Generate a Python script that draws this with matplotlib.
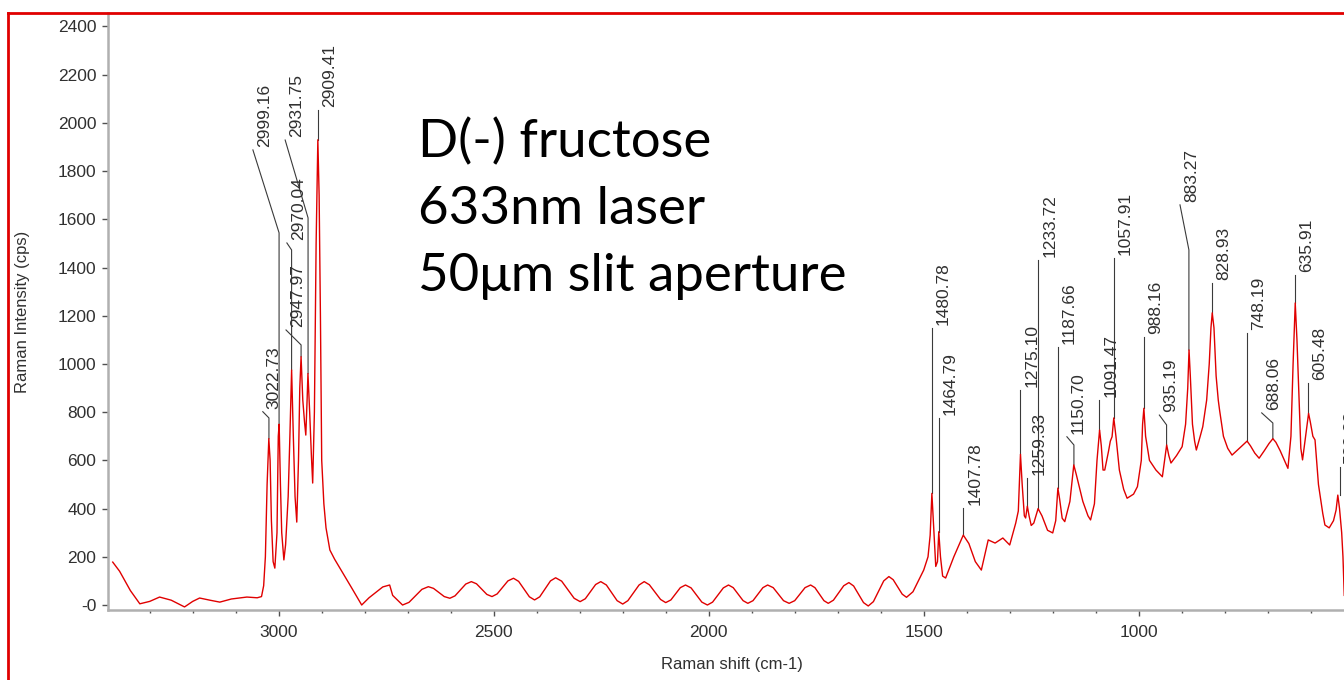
import matplotlib
matplotlib.use("Agg")
import matplotlib.pyplot as plt
from matplotlib.lines import Line2D
from matplotlib.ticker import MultipleLocator

# Raman spectrum (shift in cm-1, intensity in cps)
shift = [3386, 3370, 3345, 3323, 3300, 3277, 3250, 3219, 3200, 3184, 3160, 3137,
         3110, 3074, 3050, 3040, 3035, 3031, 3027, 3023, 3020, 3017, 3013, 3009,
         3004, 3001, 2999, 2996, 2993, 2988, 2984, 2978, 2974, 2970, 2966, 2962,
         2958, 2954, 2951, 2948, 2944, 2940, 2937, 2934, 2932, 2928, 2924, 2921,
         2917, 2913, 2909, 2906, 2903, 2900, 2895, 2890, 2881, 2870, 2851, 2830,
         2807, 2790, 2758, 2742, 2735,
         2712, 2697, 2667, 2652, 2640, 2615, 2602, 2590, 2565, 2552, 2540, 2516, 2504, 2492, 2467,
         2454, 2442, 2417, 2405, 2393, 2368, 2356, 2342, 2313, 2299, 2287, 2263, 2251, 2238, 2213,
         2200, 2188, 2162, 2150, 2138, 2112, 2100, 2088, 2066, 2054, 2041, 2016, 2003, 1991, 1966,
         1954, 1943, 1920, 1909, 1897, 1874, 1863, 1850, 1826, 1813, 1800, 1776, 1763, 1753, 1732,
         1722, 1710, 1686, 1674, 1663, 1640, 1629, 1617, 1593, 1581, 1571, 1550, 1540, 1525, 1500,
         1490, 1485, 1481, 1477, 1472, 1468, 1465, 1461, 1456, 1449, 1430, 1408,
         1395, 1380, 1366, 1350, 1334, 1316, 1300, 1286, 1280, 1275, 1271, 1266,
         1263, 1259, 1255, 1250, 1244, 1234, 1225, 1212, 1200, 1193, 1188, 1184,
         1178, 1172, 1160, 1151, 1145, 1130, 1118, 1112, 1103, 1097, 1091, 1087,
         1083, 1079, 1070, 1066, 1062, 1058, 1053, 1045, 1035, 1027, 1012, 1003,
         994, 991, 988, 984, 975, 960, 945, 935, 930, 925, 912, 899,
         891, 886, 883, 880, 875, 870, 866, 857, 851, 842, 836, 832,
         829, 825, 820, 815, 812, 803, 793, 783, 772, 760, 748, 740,
         730, 720, 708, 697, 688, 681, 671, 661, 653, 646, 641, 636,
         632, 628, 623, 619, 612, 605, 601, 595, 590, 582, 572, 567,
         557, 547, 541, 537, 533, 528, 525, 522]
intensity = [178, 140, 60, 5, 15, 33, 20, -8, 15, 29, 20, 12,
             25, 33, 30, 35, 80, 200, 500, 690, 600, 350, 180, 153,
             300, 700, 750, 500, 300, 187, 250, 450, 700, 975, 700, 450,
             344, 600, 900, 1030, 850, 760, 705, 850, 960, 800, 620, 506,
             800, 1500, 1930, 1700, 1200, 600, 420, 320, 228, 190, 133, 70,
             0, 30, 75, 83, 40,
             0, 11, 65, 76, 69, 35, 28, 38, 87, 97, 88, 44, 35, 46, 100,
             111, 98, 34, 21, 34, 100, 113, 99, 28, 14, 26, 85, 97, 83, 18,
             4, 18, 83, 97, 84, 23, 10, 21, 72, 83, 71, 12, 0, 12, 71,
             83, 72, 18, 7, 18, 72, 83, 72, 18, 7, 18, 72, 83, 72, 18,
             7, 20, 80, 93, 79, 10, -4, 14, 100, 118, 105, 45, 32, 55, 145,
             200, 290, 463, 330, 160, 180, 304, 200, 120, 112, 200, 290,
             255, 180, 145, 270, 257, 278, 249, 340, 390, 625, 500, 370,
             361, 410, 370, 330, 340, 400, 370, 310, 299, 350, 485, 440,
             360, 346, 430, 581, 540, 430, 370, 353, 420, 600, 726, 660,
             560, 560, 640, 680, 698, 776, 700, 560, 480, 443, 460, 491,
             600, 750, 816, 700, 600, 560, 532, 664, 620, 589, 620, 657,
             750, 900, 1058, 950, 750, 680, 643, 700, 740, 850, 1000, 1150,
             1212, 1150, 950, 850, 809, 700, 650, 622, 640, 660, 680, 660,
             630, 609, 640, 670, 690, 675, 640, 600, 567, 700, 1000, 1253,
             1100, 900, 650, 602, 700, 795, 760, 700, 685, 500, 380, 332,
             320, 350, 394, 456, 400, 300, 200, 40]

# labelled peaks: leader runs up from the peak, bends at the knee, ends at the label
peak_labels = ["3022.73", "2999.16", "2970.04", "2947.97", "2931.75", "2909.41",
               "1480.78", "1464.79", "1407.78", "1275.10", "1259.33", "1233.72",
               "1187.66", "1150.70", "1091.47", "1057.91", "988.16", "935.19",
               "883.27", "828.93", "748.19", "688.06", "635.91", "605.48", "532.38"]
peak_pos = [3022.73, 2999.16, 2970.04, 2947.97, 2931.75, 2909.41,
            1480.78, 1464.79, 1407.78, 1275.10, 1259.33, 1233.72,
            1187.66, 1150.70, 1091.47, 1057.91, 988.16, 935.19,
            883.27, 828.93, 748.19, 688.06, 635.91, 605.48, 532.38]
peak_height = [690, 750, 975, 1030, 960, 1930,
               463, 304, 290, 625, 410, 400,
               485, 581, 726, 776, 816, 664,
               1058, 1212, 680, 690, 1253, 795, 456]
knee_height = [776, 1544, 1473, 1079, 1606, 2054,
               1149, 776, 402, 892, 527, 1432,
               1071, 664, 851, 1440, 1112, 747,
               1473, 1336, 1129, 755, 1369, 921, 573]
label_pos = [3037, 3060, 2981, 2983, 2985, 2909.41,
             1480.78, 1464.79, 1407.78, 1275.10, 1259.33, 1233.72,
             1187.66, 1167, 1091.47, 1057.91, 988.16, 952,
             904, 828.93, 748.19, 714, 635.91, 605.48, 532.38]
label_height = [802, 1888, 1502, 1141, 1929, 2054,
                1149, 776, 402, 892, 527, 1432,
                1071, 698, 851, 1440, 1112, 788,
                1660, 1336, 1129, 797, 1369, 921, 573]

note_lines = ["D(-) fructose", "633nm laser", "50\u03bcm slit aperture"]

W, H = 1344, 680
fig = plt.figure(figsize=(W / 100, H / 100), dpi=100)
ax = fig.add_axes([108 / W, 1 - 610 / H, 1236 / W, 597 / H])

ax.plot(shift, intensity, color="#e00000", lw=1.0, zorder=3)

for i in range(len(peak_labels)):
    xs = [peak_pos[i], peak_pos[i], label_pos[i]]
    ys = [peak_height[i], knee_height[i], label_height[i]]
    ax.plot(xs, ys, color="#3a3a3a", lw=0.8, zorder=2, clip_on=False)
    ax.annotate(peak_labels[i], xy=(label_pos[i], label_height[i]), xytext=(4, 3),
                textcoords="offset pixels", rotation=90, rotation_mode="anchor",
                ha="left", va="top", fontsize=12.5, color="#303030",
                family="Liberation Sans", annotation_clip=False)

ax.set_xlim(3397, 522.6)
ax.set_ylim(-20.7, 2456)

for s in ["top", "right"]:
    ax.spines[s].set_visible(False)
for s in ["left", "bottom"]:
    ax.spines[s].set_color("#b0b0b0")
    ax.spines[s].set_linewidth(1.8)

yt = list(range(0, 2401, 200))
ax.set_yticks(yt)
ax.set_yticklabels(["-0"] + [str(v) for v in yt[1:]])
ax.set_xticks([3000, 2500, 2000, 1500, 1000])
ax.xaxis.set_minor_locator(MultipleLocator(100))

for lab in ax.get_xticklabels() + ax.get_yticklabels():
    lab.set_family("Liberation Sans")
ax.tick_params(axis="both", which="major", length=4.5, width=1, color="#505050",
               labelsize=12.5, labelcolor="#303030")
ax.tick_params(axis="y", pad=4)
ax.tick_params(axis="x", pad=6)
ax.tick_params(axis="x", which="minor", length=2.5, width=1, color="#505050")

ax.set_xlabel("Raman shift (cm-1)", fontsize=12, color="#303030", family="Liberation Sans")
ax.set_ylabel("Raman Intensity (cps)", fontsize=12, color="#303030", family="Liberation Sans")
ax.xaxis.set_label_coords(0.505, -0.078)
ax.yaxis.set_label_coords(-0.063, 0.5)

for line, base in zip(note_lines, [157, 224, 291]):
    fig.text(418 / W, 1 - base / H, line, fontsize=38, family="Lato",
             va="baseline", ha="left", color="black")

# red frame on the left and top edges
fig.add_artist(Line2D([7.5 / W, 7.5 / W], [0, 1 - 12.5 / H], transform=fig.transFigure,
                      color="#e00000", lw=2))
fig.add_artist(Line2D([7.5 / W, 1], [1 - 12.5 / H, 1 - 12.5 / H], transform=fig.transFigure,
                      color="#e00000", lw=2))

fig.savefig("out.png", dpi=100)
